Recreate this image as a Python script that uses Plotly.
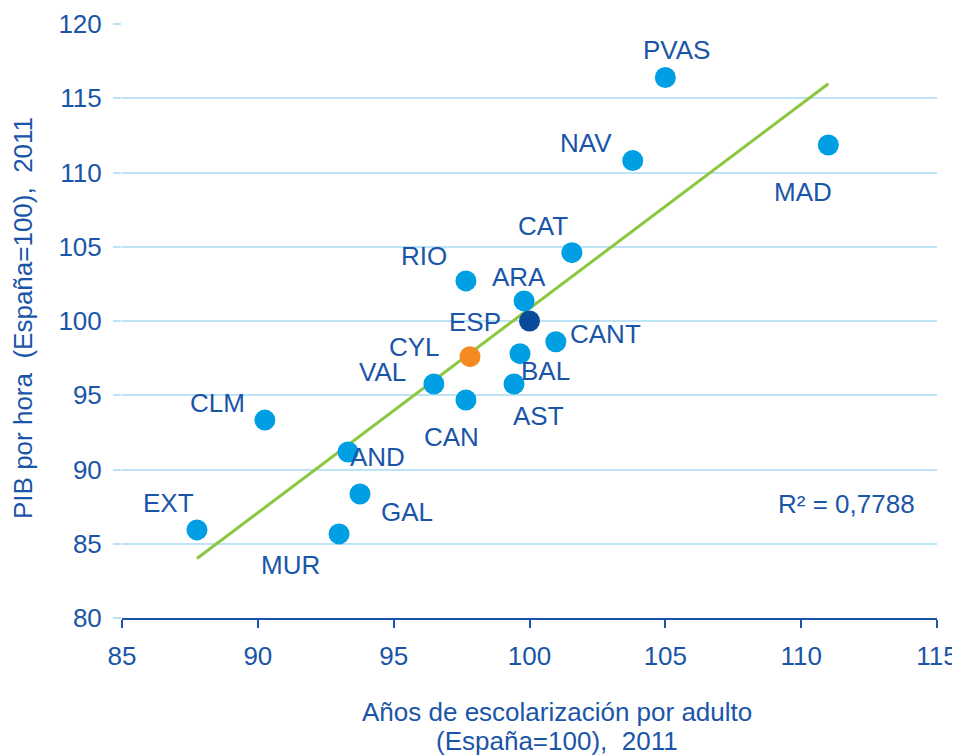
import numpy as np
import plotly.graph_objects as go

regions = ["PVAS", "MAD", "NAV", "CAT", "RIO", "ARA", "ESP", "CANT", "CYL", "BAL",
           "VAL", "AST", "CAN", "CLM", "AND", "GAL", "EXT", "MUR"]
schooling = [105.0, 111.0, 103.8, 101.56, 97.66, 99.8, 100.0, 100.97, 97.81, 99.65,
             96.48, 99.43, 97.66, 90.26, 93.32, 93.76, 87.76, 92.99]
gdp_hour = [116.4, 111.85, 110.8, 104.6, 102.7, 101.35, 100.0, 98.6, 97.6, 97.8,
            95.76, 95.76, 94.68, 93.33, 91.18, 88.35, 85.93, 85.66]
r2_text = "R² = 0,7788"
x_title_1 = "Años de escolarización por adulto"
x_title_2 = "(España=100),\u00a0 2011"
y_title = "PIB por hora\u00a0 (España=100),\u00a0 2011"

# label offsets in pixels (styling)
offsets = {
    "PVAS": (11, 27), "NAV": (-47, 18), "MAD": (-25, -47), "CAT": (-29, 27),
    "RIO": (-42, 25), "ARA": (-5, 24), "ESP": (-55, -1), "CANT": (50, 8),
    "CYL": (-56, 10), "BAL": (26, -17), "VAL": (-51, 12), "AST": (24, -32),
    "CAN": (-14, -37), "CLM": (-47, 17), "AND": (29, -5), "GAL": (47, -18),
    "EXT": (-28, 27), "MUR": (-49, -31),
}

TXT = "#1A55A8"
FONT = "Liberation Sans, Arial, sans-serif"
FS = 26

colors = []
for r in regions:
    if r == "ESP":
        colors.append("#0A4A9B")
    elif r == "CYL":
        colors.append("#F38B22")
    else:
        colors.append("#009FE3")

x = np.array(schooling)
y = np.array(gdp_hour)
slope, intercept = np.polyfit(x, y, 1)
xl = np.array([x.min(), x.max()])
yl = slope * xl + intercept

# page has an 8px body margin; compensate so the plot lands where the reference is
OFF = 8
W, H = 960, 756
L, R, T, B = 122 - OFF, 23 + OFF, 24 - OFF, 138 + OFF
pa_w, pa_h = W - L - R, H - T - B


def px2paper(px, py):
    px -= OFF
    py -= OFF
    return (px - L) / pa_w, 1 - (py - T) / pa_h


fig = go.Figure()
fig.add_trace(go.Scatter(x=xl, y=yl, mode="lines",
                         line=dict(color="#8DC63F", width=3), showlegend=False,
                         hoverinfo="skip"))
fig.add_trace(go.Scatter(x=x, y=y, mode="markers",
                         marker=dict(size=21, color=colors, line=dict(width=0)),
                         hoverinfo="text", text=regions, showlegend=False))

for r, xi, yi in zip(regions, schooling, gdp_hour):
    dx, dy = offsets[r]
    fig.add_annotation(x=xi, y=yi, xref="x", yref="y", text=r, showarrow=False,
                       xanchor="center", yanchor="middle",
                       xshift=dx, yshift=dy, font=dict(size=FS, color=TXT, family=FONT))


def add_px_text(text, px, py, size=FS, angle=0):
    ax_, ay_ = px2paper(px, py)
    fig.add_annotation(x=ax_, y=ay_, xref="paper", yref="paper", text=text, showarrow=False,
                       xanchor="center", yanchor="middle", textangle=angle,
                       font=dict(size=size, color=TXT, family=FONT))


add_px_text(r2_text, 846, 504)
add_px_text(x_title_1, 557, 712)
add_px_text(x_title_2, 557, 741)
add_px_text(y_title, 23, 318, size=26, angle=-90)

fig.update_layout(
    width=W, height=H,
    margin=dict(l=L, r=R, t=T, b=B, autoexpand=False),
    paper_bgcolor="white", plot_bgcolor="white",
    font=dict(family=FONT, size=FS, color=TXT),
    xaxis=dict(range=[85, 115], tick0=85, dtick=5, showgrid=False, zeroline=False,
               showline=True, linecolor="#1A55A8", linewidth=2, automargin=False,
               ticks="outside", ticklen=8, tickwidth=2, tickcolor="#1A55A8",
               tickfont=dict(size=FS, color=TXT), ticklabelstandoff=6),
    yaxis=dict(range=[80, 120], tick0=80, dtick=5, showgrid=True, gridcolor="#BDE3F6",
               gridwidth=2, zeroline=False, showline=False, automargin=False,
               ticks="outside", ticklen=8, tickwidth=2, tickcolor="#BDE3F6",
               tickfont=dict(size=FS, color=TXT), ticklabelstandoff=6),
)

fig.write_html("out.html")
